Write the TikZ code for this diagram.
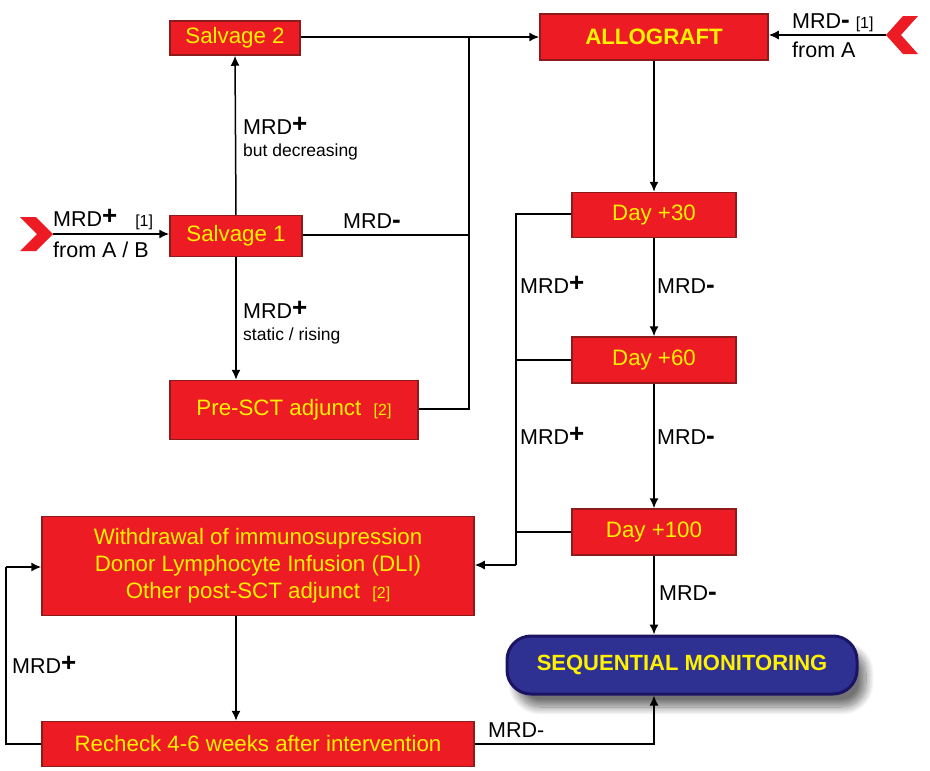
\documentclass[tikz,border=0pt]{standalone}
\usepackage{fontspec}
\setmainfont{Liberation Sans}
\usetikzlibrary{arrows.meta,shadows.blur}
\definecolor{boxred}{HTML}{ED1C24}
\definecolor{boxedge}{HTML}{8E1B1B}
\definecolor{txtyel}{HTML}{FFF200}
\definecolor{navyfill}{HTML}{2E3192}
\definecolor{navyedge}{HTML}{1B1464}
\newcommand\bigplus{\raisebox{1.5pt}{\fontsize{26}{26}\selectfont\bfseries +}}
\newcommand\bigminus{{\fontsize{26}{26}\selectfont\bfseries -}}
\newcommand\refsmall[1]{{\fontsize{16}{18}\selectfont #1}}
\tikzset{
  redbox/.style={draw=boxedge, line width=1.5pt, fill=boxred, text=txtyel,
    inner sep=0pt, font=\fontsize{22.3}{27}\selectfont, align=center},
  lbl/.style={font=\fontsize{21.5}{24}\selectfont, inner sep=0pt, anchor=base west},
  sublbl/.style={font=\fontsize{17.5}{20}\selectfont, inner sep=0pt, anchor=base west},
  conn/.style={line width=1.5pt},
  arr/.style={conn, -{Latex[length=10pt,width=9pt]}},
  chev/.style={fill=boxred, draw=none},
}
\begin{document}
\begin{tikzpicture}[x=1pt,y=-1pt]
\useasboundingbox (0,0) rectangle (930,771);

% boxes
\node[redbox, minimum width=130pt, minimum height=34pt] (s2) at (235,38) {Salvage 2};
\node[redbox, minimum width=228pt, minimum height=46pt, font=\fontsize{22.3}{27}\selectfont\bfseries] (allo) at (654,37) {ALLOGRAFT};
\node[redbox, minimum width=132pt, minimum height=41pt] (s1) at (236,236) {Salvage 1};
\node[redbox, minimum width=248pt, minimum height=59pt] (pre) at (294,410) {Pre-SCT adjunct\ \ \refsmall{[2]}};
\node[redbox, minimum width=164pt, minimum height=45pt] (d30) at (654,215) {Day +30};
\node[redbox, minimum width=164pt, minimum height=46pt] (d60) at (654,360) {Day +60};
\node[redbox, minimum width=164pt, minimum height=46pt] (d100) at (654,532) {Day +100};
\node[redbox, minimum width=432pt, minimum height=99pt] (wd) at (258,566)
  {Withdrawal of immunosupression\\Donor Lymphocyte Infusion (DLI)\\Other post-SCT adjunct\ \ \refsmall{[2]}};
\node[redbox, minimum width=432pt, minimum height=45pt] (rc) at (258,744) {Recheck 4-6 weeks after intervention};
\node[draw=navyedge, line width=3pt, fill=navyfill, text=txtyel, rounded corners=24pt,
  minimum width=350pt, minimum height=58pt, inner sep=0pt,
  font=\fontsize{22}{26}\selectfont\bfseries,
  blur shadow={shadow xshift=9pt, shadow yshift=-13pt, shadow blur steps=14, shadow blur radius=8pt, shadow opacity=55}]
  (seq) at (682,665) {SEQUENTIAL MONITORING};

% chevrons
\fill[chev] (20,217) -- (36,217) -- (53,234) -- (36,251) -- (20,251) -- (37,234) -- cycle;
\coordinate (lc) at (53,234);
\fill[chev] (918,16) -- (903,16) -- (886,35) -- (903,54) -- (918,54) -- (901,35) -- cycle;
\coordinate (rcv) at (886,35);

% junction coordinates
\coordinate (jt) at (469,37);
\coordinate (jm) at (469,235);
\coordinate (jb) at (469,409);
\coordinate (bt) at (516,214);
\coordinate (bb) at (516,565);
\coordinate (lt) at (6,567);
\coordinate (lb) at (6,744);

% connectors
\draw[arr] (lc) -- (s1.west |- lc);
\draw[arr] (rcv) -- (allo.east |- rcv);
\draw[arr] (s1.north) -- (s2.south);
\draw[arr] (s1.south) -- (pre.north -| s1.south);
\draw[arr] (s2.east |- jt) -- (allo.west |- jt);
\draw[conn] (s1.east |- jm) -- (jm);
\draw[conn] (pre.east |- jb) -- (jb) -- (jt);
\draw[arr] (allo.south) -- (d30.north);
\draw[arr] (d30.south) -- (d60.north);
\draw[arr] (d60.south) -- (d100.north);
\draw[arr] (d100.south) -- (seq.north -| d100.south);
\draw[conn] (d30.west |- bt) -- (bt) -- (bb);
\draw[conn] (d60.west) -- (d60.west -| bt);
\draw[conn] (d100.west) -- (d100.west -| bt);
\draw[arr] (bb) -- (wd.east |- bb);
\draw[arr] (wd.south -| s1.south) -- (rc.north -| s1.south);
\draw[conn] (rc.west) -- (lb) -- (lt);
\draw[arr] (lt) -- (wd.west |- lt);
\draw[arr] (rc.east) -| (seq.south -| d100.south);

% labels
\node[lbl] (l1) at (53,226) {MRD\bigplus\ \ \ \refsmall{[1]}};
\node[lbl] (l2) at (53,257) {from A / B};
\node[lbl] (l3) at (792,28) {MRD\bigminus\ \refsmall{[1]}};
\node[lbl] (l4) at (792,57) {from A};
\node[lbl] (l5) at (243,134) {MRD\bigplus};
\node[sublbl] (l6) at (243,156) {but decreasing};
\node[lbl] (l7) at (343,228) {MRD\bigminus};
\node[lbl] (l8) at (243,318) {MRD\bigplus};
\node[sublbl] (l9) at (243,340) {static / rising};
\node[lbl] (l10) at (520,293) {MRD\bigplus};
\node[lbl] (l11) at (657,293) {MRD\bigminus};
\node[lbl] (l12) at (520,444) {MRD\bigplus};
\node[lbl] (l13) at (657,444) {MRD\bigminus};
\node[lbl] (l14) at (659,600) {MRD\bigminus};
\node[lbl] (l15) at (12,673) {MRD\bigplus};
\node[lbl] (l16) at (488,737) {MRD-};
\end{tikzpicture}
\end{document}
